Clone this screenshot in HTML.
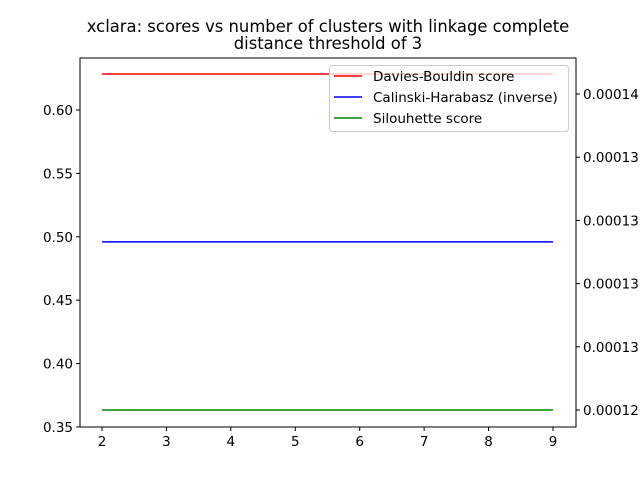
<!DOCTYPE html>
<html><head><meta charset="utf-8"><style>
body{margin:0;background:#fff}
svg{font-family:"DejaVu Sans","Liberation Sans",sans-serif}
</style></head><body>
<svg id="c" width="640" height="480" xmlns="http://www.w3.org/2000/svg"></svg>
<script>
const categories=[2,3,4,5,6,7,8,9];
const daviesBouldin=[0.6284,0.6284,0.6284,0.6284,0.6284,0.6284,0.6284,0.6284];
const silhouette=[0.3634,0.3634,0.3634,0.3634,0.3634,0.3634,0.3634,0.3634];
const calinskiInv=[0.00013415,0.00013415,0.00013415,0.00013415,0.00013415,0.00013415,0.00013415,0.00013415];
const leftTicks=[0.35,0.40,0.45,0.50,0.55,0.60];
const leftTickLabels=["0.35","0.40","0.45","0.50","0.55","0.60"];
const rightTicks=[0.0001275,0.00013,0.0001325,0.000135,0.0001375,0.00014];
const rightTickLabels=["0.00012","0.00013","0.00013","0.00013","0.00013","0.00014"];

const L=80,R=576,T=58,B=427;
const svg=document.getElementById('c');
const NS="http://www.w3.org/2000/svg";
function mk(tag,attrs,parent){const e=document.createElementNS(NS,tag);for(const k in attrs)e.setAttribute(k,attrs[k]);(parent||svg).appendChild(e);return e;}
const x=v=>102+(v-2)*(553-102)/7;
const yL=v=>427-(v-0.35)*(427-110)/0.25;
const yR=v=>410-(v-0.0001275)*(410-94)/0.0000125;

function tx(s,a){const e=mk('text',a);e.textContent=s;return e;}
let t=tx("xclara: scores vs number of clusters with linkage complete",{x:328,y:32,'font-size':16.4,'text-anchor':'middle'});

t=tx("distance threshold of 3",{x:328,y:49,'font-size':16.4,'text-anchor':'middle'});


function line(arr,yf,color,name){
  const p=mk('polyline',{points:arr.map((v,i)=>x(categories[i])+','+yf(v)).join(' '),fill:'none',stroke:color,'stroke-width':1.5});
  
}
line(daviesBouldin,yL,'#ff0000','davies-bouldin-line');
line(calinskiInv,yR,'#0000ff','calinski-harabasz-line');
line(silhouette,yL,'#008000','silhouette-line');

let f=mk('rect',{x:L,y:T,width:R-L,height:B-T,fill:'none',stroke:'#000','stroke-width':1});


categories.forEach(c=>{
  mk('line',{x1:x(c),x2:x(c),y1:B,y2:B+4,stroke:'#000'});
  const e=tx(String(c),{x:x(c),y:B+19,'font-size':13.5,'text-anchor':'middle'});
  
});
leftTicks.forEach((v,i)=>{
  mk('line',{x1:L-4,x2:L,y1:yL(v),y2:yL(v),stroke:'#000'});
  const e=tx(leftTickLabels[i],{x:L-7,y:yL(v)+5,'font-size':13.5,'text-anchor':'end'});
  
});
rightTicks.forEach((v,i)=>{
  mk('line',{x1:R,x2:R+4,y1:yR(v),y2:yR(v),stroke:'#000'});
  const e=tx(rightTickLabels[i],{x:R+7,y:yR(v)+5,'font-size':13.5});
  
});

const lg=mk('g',{});

mk('rect',{x:329.5,y:65.5,width:239,height:66,rx:3,fill:'#fff','fill-opacity':0.8,stroke:'#ccc'},lg);
const items=[["Davies-Bouldin score","#ff0000"],["Calinski-Harabasz (inverse)","#0000ff"],["Silouhette score","#008000"]];
items.forEach((it,i)=>{
  const yy=76+i*21;
  mk('line',{x1:334,x2:362,y1:yy,y2:yy,stroke:it[1],'stroke-width':1.5},lg);
  const e=mk('text',{x:373,y:yy+5,'font-size':13.5},lg);e.textContent=it[0];
  
});
</script>
</body></html>
